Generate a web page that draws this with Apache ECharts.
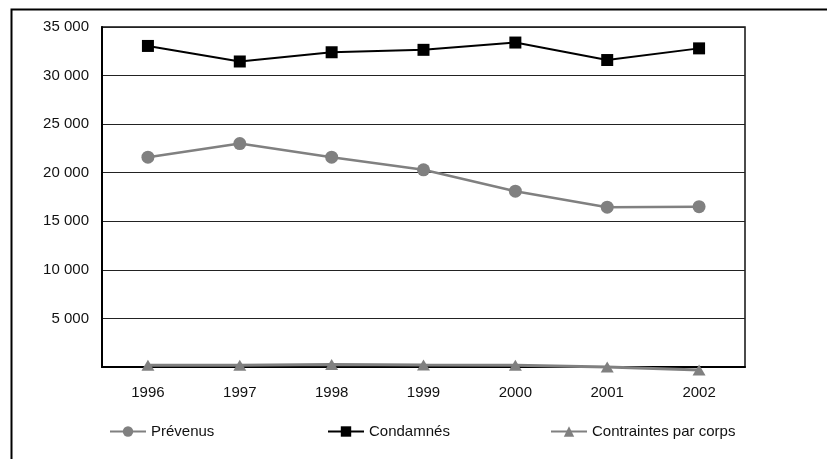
<!DOCTYPE html>
<html>
<head>
<meta charset="utf-8">
<script src="https://cdn.jsdelivr.net/npm/echarts@6/dist/echarts.min.js"></script>
<style>
html,body{margin:0;padding:0;background:#fff;}
#c{width:827px;height:459px;}
</style>
</head>
<body>
<div id="c"></div>
<script>
var years = ['1996','1997','1998','1999','2000','2001','2002'];
var prevenus = [21600, 23000, 21600, 20300, 18100, 16450, 16500];
var condamnes = [33050, 31450, 32400, 32650, 33400, 31600, 32800];
var contraintes = [180, 180, 260, 200, 180, 0, -300];
var yTicks = [0, 5000, 10000, 15000, 20000, 25000, 30000, 35000];

var font = '"Liberation Sans", Arial, sans-serif';
var fs = 15;
function fmt(v){
  if (v === 0) return '';
  var s = String(v);
  return s.replace(/\B(?=(\d{3})+(?!\d))/g, ' ');
}
var chart = echarts.init(document.getElementById('c'));
chart.setOption({
  animation: false,
  backgroundColor: '#fff',
  textStyle: {fontFamily: font},
  graphic: [{
    type: 'rect', left: 9, top: 7, shape: {width: 840, height: 470},
    style: {fill: 'none', stroke: '#000', lineWidth: 2}
  }],
  grid: {left: 102, right: 82, top: 27, bottom: 92, show: true, borderColor: '#111', borderWidth: 1.5},
  legend: [
    {data: ['Prévenus'], left: 104, top: 419, itemWidth: 36, itemHeight: 13, itemGap: 10,
     textStyle: {fontSize: fs, color: '#111', fontFamily: font}},
    {data: ['Condamnés'], left: 322, top: 419, itemWidth: 36, itemHeight: 13,
     textStyle: {fontSize: fs, color: '#111', fontFamily: font}},
    {data: ['Contraintes par corps'], left: 545, top: 419, itemWidth: 36, itemHeight: 13,
     textStyle: {fontSize: fs, color: '#111', fontFamily: font}}
  ],
  xAxis: {
    type: 'category', data: years, boundaryGap: true,
    axisLine: {show: true, lineStyle: {color: '#000', width: 2}},
    axisTick: {show: false},
    axisLabel: {fontSize: fs, color: '#111', margin: 18, fontFamily: font},
    splitLine: {show: false}
  },
  yAxis: {
    type: 'value', min: yTicks[0], max: yTicks[yTicks.length - 1], interval: yTicks[1] - yTicks[0],
    axisLine: {show: true, lineStyle: {color: '#000', width: 2}},
    axisTick: {show: false},
    axisLabel: {fontSize: fs, color: '#111', margin: 13, formatter: fmt, fontFamily: font},
    splitLine: {show: true, lineStyle: {color: '#222', width: 1.2}}
  },
  series: [
    {name: 'Prévenus', type: 'line', data: prevenus, symbol: 'circle', symbolSize: 13,
     itemStyle: {color: '#808080'}, lineStyle: {color: '#808080', width: 2.5}, clip: false, z: 3},
    {name: 'Condamnés', type: 'line', data: condamnes, symbol: 'rect', symbolSize: 12,
     itemStyle: {color: '#000'}, lineStyle: {color: '#000', width: 2}, clip: false, z: 3},
    {name: 'Contraintes par corps', type: 'line', data: contraintes, symbol: 'triangle', symbolSize: [13, 11],
     itemStyle: {color: '#808080'}, lineStyle: {color: '#808080', width: 3}, clip: false, z: 4}
  ]
});
</script>
</body>
</html>
